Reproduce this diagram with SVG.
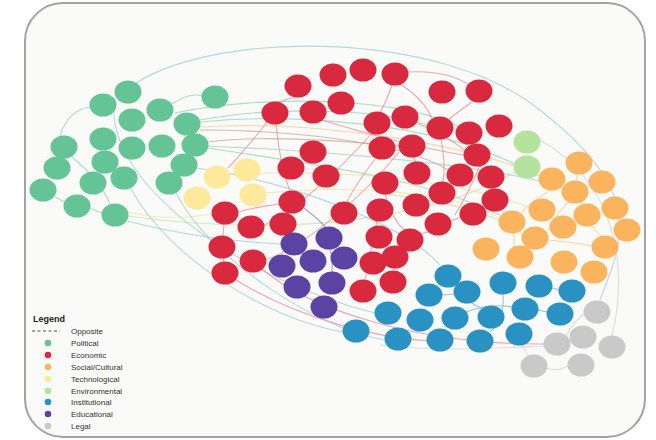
<svg xmlns="http://www.w3.org/2000/svg" width="656" height="440" viewBox="0 0 656 440">
<style>
.pol{fill:#64c496}.eco{fill:#d9293f}.soc{fill:#fbb45e}.tec{fill:#fde99b}.env{fill:#b5e29c}.ins{fill:#2a92c2}.edu{fill:#5a43a3}.leg{fill:#c9c9c9}
.c{fill:none;stroke-width:1.1;opacity:.75}
.cg{stroke:#92d3b5}.ct{stroke:#9ccdd3}.cr{stroke:#e88a96}.co{stroke:#f6cb93}.cy{stroke:#f3e3a0}.ce{stroke:#c3e4ae}.cb{stroke:#6fb6d8}.cp{stroke:#8a7cc8}.cl{stroke:#d3d3d3}.cn{stroke:#c9a49a}
.lt{font-family:"Liberation Sans",Arial,sans-serif;font-size:8px;fill:#333}
</style>
<rect x="0" y="0" width="656" height="440" fill="#ffffff"/>
<rect x="25" y="3" width="620" height="434" rx="38" fill="#fafaf8" stroke="#a3a3a3" stroke-width="2"/>
<g id="connectors">
<path class="c ct" d="M136,83 C220,30 440,30 540,110 S628,230 600,300"/>
<path class="c cl" d="M612,336 C630,260 612,180 540,140"/>
<path class="c cg" d="M172,104 Q190,92 202,96"/>
<path class="c cg" d="M60,136 Q68,110 90,107"/>
<path class="c cg" d="M72,157 Q100,180 110,204"/>
<path class="c cg" d="M66,203 L55,197"/>
<path class="c cg" d="M90,208 Q98,212 102,213"/>
<path class="c ce" d="M515,172 C440,215 300,240 128,216"/>
<path class="c cy" d="M128,212 Q170,222 212,214"/>
<path class="c ct" d="M127,221 Q200,240 281,244"/>
<path class="c ct" d="M131,189 C170,260 270,320 343,332"/>
<path class="c ct" d="M176,193 C210,260 320,330 385,340"/>
<path class="c ct" d="M115,98 C100,180 240,280 375,313"/>
<path class="c cg" d="M200,122 C300,112 440,125 514,164"/>
<path class="c co" d="M200,127 C300,120 460,140 539,176"/>
<path class="c cn" d="M200,130 C280,130 400,140 448,170"/>
<path class="c ct" d="M208,146 C300,150 450,160 539,181"/>
<path class="c cg" d="M200,120 C280,105 380,110 427,125"/>
<path class="c cn" d="M208,142 C260,135 330,140 399,146"/>
<path class="c cg" d="M208,148 C280,160 420,175 500,215"/>
<path class="c cy" d="M266,193 C350,185 450,190 500,218"/>
<path class="c cy" d="M230,174 C330,170 440,175 529,207"/>
<path class="c ct" d="M197,168 C280,180 400,220 440,265"/>
<path class="c cg" d="M175,113 C260,95 400,95 466,130"/>
<path class="c cr" d="M279,102 L294,97"/>
<path class="c cr" d="M276,124 Q280,165 290,191"/>
<path class="c cr" d="M268,121 Q245,150 228,168"/>
<path class="c cr" d="M392,85 Q385,105 380,112"/>
<path class="c cr" d="M408,72 Q445,70 468,84"/>
<path class="c cr" d="M473,101 L449,119"/>
<path class="c cr" d="M400,84 Q425,100 432,119"/>
<path class="c cr" d="M441,139 Q446,165 443,182"/>
<path class="c cr" d="M376,158 Q355,185 347,202"/>
<path class="c cr" d="M413,157 L416,162"/>
<path class="c cr" d="M461,217 L451,221"/>
<path class="c cr" d="M428,232 L420,234"/>
<path class="c cr" d="M280,204 Q255,207 238,212"/>
<path class="c cr" d="M224,224 L223,236"/>
<path class="c cr" d="M223,258 L224,262"/>
<path class="c cr" d="M262,269 C310,310 420,345 545,344"/>
<path class="c cr" d="M236,280 C300,320 380,338 428,341"/>
<path class="c cr" d="M377,221 Q370,255 365,280"/>
<path class="c cr" d="M372,133 C340,170 290,215 264,225"/>
<path class="c cr" d="M416,123 Q460,140 482,168"/>
<path class="c cr" d="M322,120 C370,135 430,150 464,155"/>
<path class="c cr" d="M399,152 C360,200 300,250 262,261"/>
<path class="c cr" d="M480,165 Q470,190 455,215"/>
<path class="c cr" d="M385,194 Q395,225 405,230"/>
<path class="c cp" d="M300,205 Q320,220 325,227"/>
<path class="c cp" d="M330,249 Q333,262 332,272"/>
<path class="c cb" d="M455,294 L442,295"/>
<path class="c cb" d="M472,303 Q480,308 482,308"/>
<path class="c cb" d="M503,294 Q505,320 490,332"/>
<path class="c cb" d="M552,288 L559,290"/>
<path class="c cb" d="M466,312 Q490,303 512,307"/>
<path class="c cb" d="M538,310 L547,312"/>
<path class="c cb" d="M455,285 L460,287"/>
<path class="c cl" d="M566,336 Q575,320 584,314"/>
<path class="c cl" d="M568,366 Q556,372 547,368"/>
<path class="c cl" d="M522,345 Q528,355 528,356"/>
<path class="c cl" d="M380,345 C440,352 500,348 544,346"/>
<path class="c co" d="M578,174 L576,181"/>
<path class="c co" d="M580,203 L584,204"/>
<path class="c co" d="M592,226 Q600,236 602,236"/>
<path class="c co" d="M548,240 Q580,243 592,246"/>
<path class="c co" d="M552,218 L556,219"/>
<path class="c co" d="M530,248 L525,247"/>
<path class="c co" d="M563,184 Q530,200 522,213"/>
<path class="c co" d="M590,185 Q560,205 548,230"/>
<path class="c co" d="M385,194 C440,200 500,215 522,233"/>
<path class="c co" d="M500,208 Q520,235 512,250"/>
</g>
<g id="nodes">
<g id="p1"><ellipse class="pol" cx="128" cy="92" rx="13.5" ry="11.5"/></g>
<g id="p2"><ellipse class="pol" cx="103" cy="105" rx="13.5" ry="11.5"/></g>
<g id="p3"><ellipse class="pol" cx="215" cy="97" rx="13.5" ry="11.5"/></g>
<g id="p4"><ellipse class="pol" cx="132" cy="120" rx="13.5" ry="11.5"/></g>
<g id="p5"><ellipse class="pol" cx="160" cy="110" rx="13.5" ry="11.5"/></g>
<g id="p6"><ellipse class="pol" cx="187" cy="124" rx="13.5" ry="11.5"/></g>
<g id="p7"><ellipse class="pol" cx="103" cy="139" rx="13.5" ry="11.5"/></g>
<g id="p8"><ellipse class="pol" cx="132" cy="148" rx="13.5" ry="11.5"/></g>
<g id="p9"><ellipse class="pol" cx="162" cy="146" rx="13.5" ry="11.5"/></g>
<g id="p10"><ellipse class="pol" cx="195" cy="145" rx="13.5" ry="11.5"/></g>
<g id="p11"><ellipse class="pol" cx="64" cy="147" rx="13.5" ry="11.5"/></g>
<g id="p12"><ellipse class="pol" cx="105" cy="162" rx="13.5" ry="11.5"/></g>
<g id="p13"><ellipse class="pol" cx="57" cy="168" rx="13.5" ry="11.5"/></g>
<g id="p14"><ellipse class="pol" cx="124" cy="178" rx="13.5" ry="11.5"/></g>
<g id="p15"><ellipse class="pol" cx="93" cy="183" rx="13.5" ry="11.5"/></g>
<g id="p16"><ellipse class="pol" cx="184" cy="165" rx="13.5" ry="11.5"/></g>
<g id="p17"><ellipse class="pol" cx="169" cy="183" rx="13.5" ry="11.5"/></g>
<g id="p18"><ellipse class="pol" cx="43" cy="190" rx="13.5" ry="11.5"/></g>
<g id="p19"><ellipse class="pol" cx="77" cy="206" rx="13.5" ry="11.5"/></g>
<g id="p20"><ellipse class="pol" cx="115" cy="215" rx="13.5" ry="11.5"/></g>
<g id="t1"><ellipse class="tec" cx="217" cy="177" rx="13.5" ry="11.5"/></g>
<g id="t2"><ellipse class="tec" cx="247" cy="170" rx="13.5" ry="11.5"/></g>
<g id="t3"><ellipse class="tec" cx="253" cy="195" rx="13.5" ry="11.5"/></g>
<g id="t4"><ellipse class="tec" cx="197" cy="198" rx="13.5" ry="11.5"/></g>
<g id="e1"><ellipse class="env" cx="527" cy="142" rx="13.5" ry="11.5"/></g>
<g id="e2"><ellipse class="env" cx="527" cy="167" rx="13.5" ry="11.5"/></g>
<g id="r1"><ellipse class="eco" cx="298" cy="86" rx="13.5" ry="11.5"/></g>
<g id="r2"><ellipse class="eco" cx="275" cy="113" rx="13.5" ry="11.5"/></g>
<g id="r3"><ellipse class="eco" cx="313" cy="112" rx="13.5" ry="11.5"/></g>
<g id="r4"><ellipse class="eco" cx="333" cy="75" rx="13.5" ry="11.5"/></g>
<g id="r5"><ellipse class="eco" cx="363" cy="70" rx="13.5" ry="11.5"/></g>
<g id="r6"><ellipse class="eco" cx="395" cy="74" rx="13.5" ry="11.5"/></g>
<g id="r7"><ellipse class="eco" cx="442" cy="92" rx="13.5" ry="11.5"/></g>
<g id="r8"><ellipse class="eco" cx="479" cy="91" rx="13.5" ry="11.5"/></g>
<g id="r9"><ellipse class="eco" cx="341" cy="103" rx="13.5" ry="11.5"/></g>
<g id="r10"><ellipse class="eco" cx="377" cy="123" rx="13.5" ry="11.5"/></g>
<g id="r11"><ellipse class="eco" cx="405" cy="117" rx="13.5" ry="11.5"/></g>
<g id="r12"><ellipse class="eco" cx="440" cy="128" rx="13.5" ry="11.5"/></g>
<g id="r13"><ellipse class="eco" cx="469" cy="133" rx="13.5" ry="11.5"/></g>
<g id="r14"><ellipse class="eco" cx="499" cy="126" rx="13.5" ry="11.5"/></g>
<g id="r15"><ellipse class="eco" cx="382" cy="148" rx="13.5" ry="11.5"/></g>
<g id="r16"><ellipse class="eco" cx="412" cy="146" rx="13.5" ry="11.5"/></g>
<g id="r17"><ellipse class="eco" cx="313" cy="152" rx="13.5" ry="11.5"/></g>
<g id="r18"><ellipse class="eco" cx="291" cy="168" rx="13.5" ry="11.5"/></g>
<g id="r19"><ellipse class="eco" cx="326" cy="176" rx="13.5" ry="11.5"/></g>
<g id="r20"><ellipse class="eco" cx="477" cy="155" rx="13.5" ry="11.5"/></g>
<g id="r21"><ellipse class="eco" cx="417" cy="173" rx="13.5" ry="11.5"/></g>
<g id="r22"><ellipse class="eco" cx="460" cy="175" rx="13.5" ry="11.5"/></g>
<g id="r23"><ellipse class="eco" cx="491" cy="177" rx="13.5" ry="11.5"/></g>
<g id="r24"><ellipse class="eco" cx="385" cy="183" rx="13.5" ry="11.5"/></g>
<g id="r25"><ellipse class="eco" cx="442" cy="193" rx="13.5" ry="11.5"/></g>
<g id="r26"><ellipse class="eco" cx="416" cy="205" rx="13.5" ry="11.5"/></g>
<g id="r27"><ellipse class="eco" cx="495" cy="200" rx="13.5" ry="11.5"/></g>
<g id="r28"><ellipse class="eco" cx="380" cy="210" rx="13.5" ry="11.5"/></g>
<g id="r29"><ellipse class="eco" cx="344" cy="213" rx="13.5" ry="11.5"/></g>
<g id="r30"><ellipse class="eco" cx="292" cy="202" rx="13.5" ry="11.5"/></g>
<g id="r31"><ellipse class="eco" cx="473" cy="214" rx="13.5" ry="11.5"/></g>
<g id="r32"><ellipse class="eco" cx="438" cy="224" rx="13.5" ry="11.5"/></g>
<g id="r33"><ellipse class="eco" cx="379" cy="237" rx="13.5" ry="11.5"/></g>
<g id="r34"><ellipse class="eco" cx="410" cy="240" rx="13.5" ry="11.5"/></g>
<g id="r35"><ellipse class="eco" cx="225" cy="213" rx="13.5" ry="11.5"/></g>
<g id="r36"><ellipse class="eco" cx="251" cy="227" rx="13.5" ry="11.5"/></g>
<g id="r37"><ellipse class="eco" cx="283" cy="224" rx="13.5" ry="11.5"/></g>
<g id="r38"><ellipse class="eco" cx="222" cy="247" rx="13.5" ry="11.5"/></g>
<g id="r39"><ellipse class="eco" cx="253" cy="261" rx="13.5" ry="11.5"/></g>
<g id="r40"><ellipse class="eco" cx="225" cy="273" rx="13.5" ry="11.5"/></g>
<g id="r41"><ellipse class="eco" cx="373" cy="263" rx="13.5" ry="11.5"/></g>
<g id="r42"><ellipse class="eco" cx="395" cy="257" rx="13.5" ry="11.5"/></g>
<g id="r43"><ellipse class="eco" cx="393" cy="282" rx="13.5" ry="11.5"/></g>
<g id="r44"><ellipse class="eco" cx="363" cy="291" rx="13.5" ry="11.5"/></g>
<g id="d1"><ellipse class="edu" cx="294" cy="244" rx="13.5" ry="11.5"/></g>
<g id="d2"><ellipse class="edu" cx="329" cy="238" rx="13.5" ry="11.5"/></g>
<g id="d3"><ellipse class="edu" cx="313" cy="261" rx="13.5" ry="11.5"/></g>
<g id="d4"><ellipse class="edu" cx="344" cy="258" rx="13.5" ry="11.5"/></g>
<g id="d5"><ellipse class="edu" cx="282" cy="266" rx="13.5" ry="11.5"/></g>
<g id="d6"><ellipse class="edu" cx="297" cy="287" rx="13.5" ry="11.5"/></g>
<g id="d7"><ellipse class="edu" cx="332" cy="283" rx="13.5" ry="11.5"/></g>
<g id="d8"><ellipse class="edu" cx="324" cy="307" rx="13.5" ry="11.5"/></g>
<g id="s1"><ellipse class="soc" cx="579" cy="163" rx="13.5" ry="11.5"/></g>
<g id="s2"><ellipse class="soc" cx="552" cy="179" rx="13.5" ry="11.5"/></g>
<g id="s3"><ellipse class="soc" cx="602" cy="182" rx="13.5" ry="11.5"/></g>
<g id="s4"><ellipse class="soc" cx="575" cy="192" rx="13.5" ry="11.5"/></g>
<g id="s5"><ellipse class="soc" cx="542" cy="210" rx="13.5" ry="11.5"/></g>
<g id="s6"><ellipse class="soc" cx="587" cy="215" rx="13.5" ry="11.5"/></g>
<g id="s7"><ellipse class="soc" cx="615" cy="208" rx="13.5" ry="11.5"/></g>
<g id="s8"><ellipse class="soc" cx="512" cy="222" rx="13.5" ry="11.5"/></g>
<g id="s9"><ellipse class="soc" cx="563" cy="227" rx="13.5" ry="11.5"/></g>
<g id="s10"><ellipse class="soc" cx="627" cy="230" rx="13.5" ry="11.5"/></g>
<g id="s11"><ellipse class="soc" cx="535" cy="238" rx="13.5" ry="11.5"/></g>
<g id="s12"><ellipse class="soc" cx="486" cy="249" rx="13.5" ry="11.5"/></g>
<g id="s13"><ellipse class="soc" cx="605" cy="247" rx="13.5" ry="11.5"/></g>
<g id="s14"><ellipse class="soc" cx="520" cy="257" rx="13.5" ry="11.5"/></g>
<g id="s15"><ellipse class="soc" cx="564" cy="262" rx="13.5" ry="11.5"/></g>
<g id="s16"><ellipse class="soc" cx="594" cy="272" rx="13.5" ry="11.5"/></g>
<g id="b1"><ellipse class="ins" cx="448" cy="276" rx="13.5" ry="11.5"/></g>
<g id="b2"><ellipse class="ins" cx="429" cy="295" rx="13.5" ry="11.5"/></g>
<g id="b3"><ellipse class="ins" cx="467" cy="292" rx="13.5" ry="11.5"/></g>
<g id="b4"><ellipse class="ins" cx="503" cy="283" rx="13.5" ry="11.5"/></g>
<g id="b5"><ellipse class="ins" cx="539" cy="286" rx="13.5" ry="11.5"/></g>
<g id="b6"><ellipse class="ins" cx="572" cy="291" rx="13.5" ry="11.5"/></g>
<g id="b7"><ellipse class="ins" cx="388" cy="313" rx="13.5" ry="11.5"/></g>
<g id="b8"><ellipse class="ins" cx="420" cy="320" rx="13.5" ry="11.5"/></g>
<g id="b9"><ellipse class="ins" cx="455" cy="318" rx="13.5" ry="11.5"/></g>
<g id="b10"><ellipse class="ins" cx="491" cy="317" rx="13.5" ry="11.5"/></g>
<g id="b11"><ellipse class="ins" cx="525" cy="309" rx="13.5" ry="11.5"/></g>
<g id="b12"><ellipse class="ins" cx="560" cy="314" rx="13.5" ry="11.5"/></g>
<g id="b13"><ellipse class="ins" cx="356" cy="331" rx="13.5" ry="11.5"/></g>
<g id="b14"><ellipse class="ins" cx="398" cy="339" rx="13.5" ry="11.5"/></g>
<g id="b15"><ellipse class="ins" cx="440" cy="340" rx="13.5" ry="11.5"/></g>
<g id="b16"><ellipse class="ins" cx="480" cy="341" rx="13.5" ry="11.5"/></g>
<g id="b17"><ellipse class="ins" cx="519" cy="334" rx="13.5" ry="11.5"/></g>
<g id="g1"><ellipse class="leg" cx="597" cy="312" rx="13.5" ry="11.5"/></g>
<g id="g2"><ellipse class="leg" cx="557" cy="344" rx="13.5" ry="11.5"/></g>
<g id="g3"><ellipse class="leg" cx="583" cy="337" rx="13.5" ry="11.5"/></g>
<g id="g4"><ellipse class="leg" cx="612" cy="347" rx="13.5" ry="11.5"/></g>
<g id="g5"><ellipse class="leg" cx="534" cy="366" rx="13.5" ry="11.5"/></g>
<g id="g6"><ellipse class="leg" cx="581" cy="365" rx="13.5" ry="11.5"/></g>
</g>
<g id="legend">
<text x="33" y="322" font-family="Liberation Sans,Arial,sans-serif" font-size="9" font-weight="bold" fill="#222">Legend</text>
<line x1="32" y1="331" x2="60" y2="331" stroke="#555" stroke-width="1" stroke-dasharray="3,2.5"/>
<text class="lt" x="71" y="334">Opposite</text>
<circle class="pol" cx="48" cy="343" r="3.3"/><text class="lt" x="71" y="346">Political</text>
<circle class="eco" cx="48" cy="355" r="3.3"/><text class="lt" x="71" y="358">Economic</text>
<circle class="soc" cx="48" cy="367" r="3.3"/><text class="lt" x="71" y="370">Social/Cultural</text>
<circle class="tec" cx="48" cy="379" r="3.3"/><text class="lt" x="71" y="382">Technological</text>
<circle class="env" cx="48" cy="391" r="3.3"/><text class="lt" x="71" y="394">Environmental</text>
<circle class="ins" cx="48" cy="402" r="3.3"/><text class="lt" x="71" y="405">Institutional</text>
<circle class="edu" cx="48" cy="414" r="3.3"/><text class="lt" x="71" y="417">Educational</text>
<circle class="leg" cx="48" cy="426" r="3.3"/><text class="lt" x="71" y="429">Legal</text>
</g>
</svg>
